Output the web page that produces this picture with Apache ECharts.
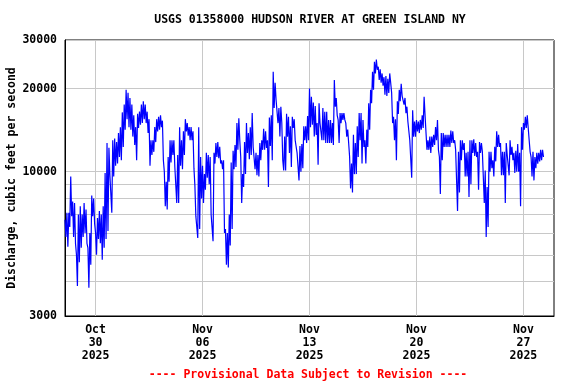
<!DOCTYPE html>
<html><head><meta charset="utf-8">
<script src="https://cdn.jsdelivr.net/npm/echarts@6/dist/echarts.min.js"></script>
<style>html,body{margin:0;padding:0;background:#fff}#c{width:576px;height:384px}</style>
</head><body><div id="c"></div>
<script>
const titleText = 'USGS 01358000 HUDSON RIVER AT GREEN ISLAND NY';
const yAxisName = 'Discharge, cubic feet per second';
const footerText = '---- Provisional Data Subject to Revision ----';

// readings from Oct 28 2025 00:00; every 3-hour window has its high and its low
const startDate = [2025, 9, 28];
const stepHours = 3;
const dischargeHigh = [
  6700, 7100, 7100, 9600, 7800, 7700, 5000, 7000,
  7500, 7000, 7700, 7300, 5300, 6000, 8200, 8000,
  6000, 6800, 7200, 7000, 7500, 9900, 12700, 12200,
  9800, 13000, 13200, 12800, 13800, 14500, 16400, 17500,
  19800, 19300, 18500, 17500, 16000, 14500, 16200, 16500,
  17500, 18000, 17500, 16500, 15500, 13000, 13000, 14500,
  15500, 15800, 16000, 15300, 10000, 9200, 11300, 13000,
  13000, 13000, 10500, 11500, 14500, 13000, 14000, 15500,
  15000, 14500, 14500, 14000, 8900, 6900, 14500, 11300,
  10500, 9800, 11700, 11500, 11300, 7000, 11700, 12700,
  12800, 12300, 11000, 11000, 6200, 6000, 7000, 10800,
  11900, 12500, 15000, 15600, 11300, 9800, 12800, 15000,
  13800, 14500, 16300, 12300, 11700, 11500, 12700, 13000,
  14300, 14000, 13000, 15700, 16000, 23000, 21000, 18500,
  17000, 17200, 11000, 13400, 16200, 15800, 14600, 15800,
  15500, 13000, 11700, 12400, 12600, 14600, 14600, 15900,
  20000, 18700, 17800, 17300, 15000, 17700, 15200, 17000,
  16500, 16500, 15400, 15400, 15000, 21500, 18500, 15400,
  16300, 16300, 16300, 15000, 14200, 11300, 10700, 13600,
  12700, 14600, 16300, 16300, 15400, 13000, 14200, 17700,
  19800, 23000, 25000, 25500, 24000, 23500, 22700, 22000,
  22200, 21700, 22700, 19300, 15800, 15500, 18000, 19800,
  20800, 18700, 18500, 17200, 15400, 13000, 16700, 15200,
  15400, 15200, 15400, 16000, 18700, 13800, 13000, 13400,
  13400, 13600, 14500, 15400, 11300, 13800, 13800, 13600,
  13600, 13600, 14100, 14000, 13000, 12000, 11800, 13000,
  13000, 12700, 11700, 11800, 13000, 13000, 13100, 12700,
  11800, 12800, 12700, 11800, 10100, 8800, 11800, 11800,
  11000, 12300, 14000, 13600, 12700, 11800, 11800, 12700,
  11500, 13000, 12300, 11700, 11900, 12600, 11700, 14500,
  15000, 15800, 16000, 13000, 11300, 11800, 11300, 11700,
  11700, 12000, 12000
];
const dischargeLow = [
  5800, 5350, 6300, 6900, 5800, 5500, 3850, 4700,
  5300, 5800, 6000, 5500, 3800, 4600, 6900, 6500,
  5000, 5700, 5500, 4800, 5300, 5700, 6100, 9700,
  7100, 9600, 10500, 10700, 11300, 11000, 12300, 14200,
  15500, 14500, 14200, 13400, 12500, 11000, 14400, 14800,
  15000, 15500, 15000, 13800, 10500, 11500, 11800, 12800,
  14000, 14200, 14500, 11000, 7500, 7300, 9200, 10800,
  11500, 10400, 7700, 7700, 10500, 10200, 11500, 14000,
  13500, 13000, 13000, 10300, 6900, 5750, 6200, 8000,
  7700, 8600, 9500, 9000, 7000, 5600, 10700, 11300,
  11200, 10700, 10200, 6000, 4600, 4500, 5400, 6200,
  10200, 10400, 12000, 13000, 7700, 8800, 9800, 11700,
  11100, 11500, 12300, 10200, 9700, 9600, 11000, 12000,
  12000, 12200, 8800, 12400, 11000, 17000, 18200, 15000,
  13400, 15000, 10100, 10100, 13400, 11700, 10400, 14400,
  13000, 11700, 9300, 10000, 10300, 13000, 12700, 13000,
  14500, 14800, 13400, 13600, 10600, 15000, 13000, 13000,
  12700, 12700, 12700, 12700, 12500, 17200, 16000, 12700,
  15000, 15400, 15400, 13400, 12700, 8700, 8400, 9800,
  9800, 11300, 13000, 10700, 12300, 10700, 12300, 14200,
  17700, 19800, 22700, 23400, 21500, 21000, 20500, 19000,
  18800, 19300, 21000, 15000, 13000, 11000, 16200, 18000,
  18800, 17500, 16300, 15200, 13000, 9500, 13400, 13400,
  14000, 13800, 14200, 14400, 16000, 12000, 12000, 11700,
  12300, 12500, 13000, 12000, 8300, 11000, 12300, 12300,
  12300, 12300, 12700, 12700, 12000, 7200, 8400, 11000,
  12000, 9600, 9600, 8100, 9000, 11700, 11400, 11300,
  8600, 11700, 11800, 7700, 5800, 6300, 10000, 10300,
  9600, 10900, 12300, 12300, 9700, 9700, 7700, 11500,
  9700, 11500, 11000, 9900, 10000, 10000, 7500, 12000,
  14200, 14400, 14400, 11800, 9600, 9300, 10300, 10700,
  10900, 11000, 11300
];

const xMinDate = [2025, 9, 28];
const xMaxDate = [2025, 10, 29];
const tickDates = [[2025, 9, 30], [2025, 10, 6], [2025, 10, 13], [2025, 10, 20], [2025, 10, 27]];
const tickLabels = ['Oct\n30\n2025', 'Nov\n06\n2025', 'Nov\n13\n2025', 'Nov\n20\n2025', 'Nov\n27\n2025'];
const yGridValues = [3000, 4000, 5000, 6000, 7000, 8000, 9000, 10000, 20000, 30000];
const yLabelValues = [3000, 10000, 20000, 30000];

const HOUR = 3600 * 1000;
const toTime = d => Date.UTC(d[0], d[1], d[2]);
const t0 = toTime(startDate);
const seriesData = [];
dischargeHigh.forEach((hi, i) => {
  const t = t0 + i * stepHours * HOUR;
  seriesData.push([t, hi]);
  seriesData.push([t + stepHours * HOUR / 2, dischargeLow[i]]);
});
const tickTimes = tickDates.map(toTime);

const FONT = '"DejaVu Sans Mono", "Liberation Mono", monospace';
const chart = echarts.init(document.getElementById('c'), null, {renderer: 'canvas'});
chart.setOption({
  animation: false,
  backgroundColor: '#fff',
  grid: {left: 65, top: 40, right: 22, bottom: 68, show: true, borderColor: '#000', borderWidth: 1, backgroundColor: '#fff', outerBoundsMode: 'none'},
  graphic: [
    {type: 'text', x: 310, y: 20, style: {text: titleText, align: 'center', verticalAlign: 'middle', fill: '#000', font: 'bold 11.5px ' + FONT}},
    {type: 'text', x: 308, y: 375, style: {text: footerText, align: 'center', verticalAlign: 'middle', fill: '#ff0000', font: 'bold 11.5px ' + FONT}}
  ],
  xAxis: {
    type: 'value',
    min: toTime(xMinDate),
    max: toTime(xMaxDate),
    axisLine: {show: true, lineStyle: {color: '#000', width: 1}},
    axisTick: {show: false, customValues: tickTimes},
    splitLine: {show: true, lineStyle: {color: '#c8c8c8', width: 1}},
    axisLabel: {
      customValues: tickTimes,
      formatter: v => {
        let best = 0;
        tickTimes.forEach((t, i) => { if (Math.abs(t - v) < Math.abs(tickTimes[best] - v)) best = i; });
        return tickLabels[best];
      },
      color: '#000', fontFamily: FONT, fontWeight: 'bold', fontSize: 11.5, lineHeight: 12.7, margin: 8
    }
  },
  yAxis: {
    type: 'log',
    logBase: 10,
    min: 3000,
    max: 30000,
    name: yAxisName,
    nameLocation: 'middle',
    nameGap: 47,
    nameMoveOverlap: false,
    nameTextStyle: {color: '#000', fontFamily: FONT, fontWeight: 'bold', fontSize: 11.5},
    axisLine: {show: true, lineStyle: {color: '#000', width: 1}},
    axisTick: {show: false, customValues: yGridValues},
    splitLine: {show: true, lineStyle: {color: '#c8c8c8', width: 1}},
    axisLabel: {
      customValues: yLabelValues,
      formatter: v => String(Math.round(v)),
      color: '#000', fontFamily: FONT, fontWeight: 'bold', fontSize: 11.5, margin: 8
    }
  },
  series: [{
    type: 'line',
    data: seriesData,
    showSymbol: false,
    symbol: 'none',
    lineStyle: {color: '#0000ff', width: 1.2},
    itemStyle: {color: '#0000ff'},
    z: 5
  }]
});
</script>
</body></html>
